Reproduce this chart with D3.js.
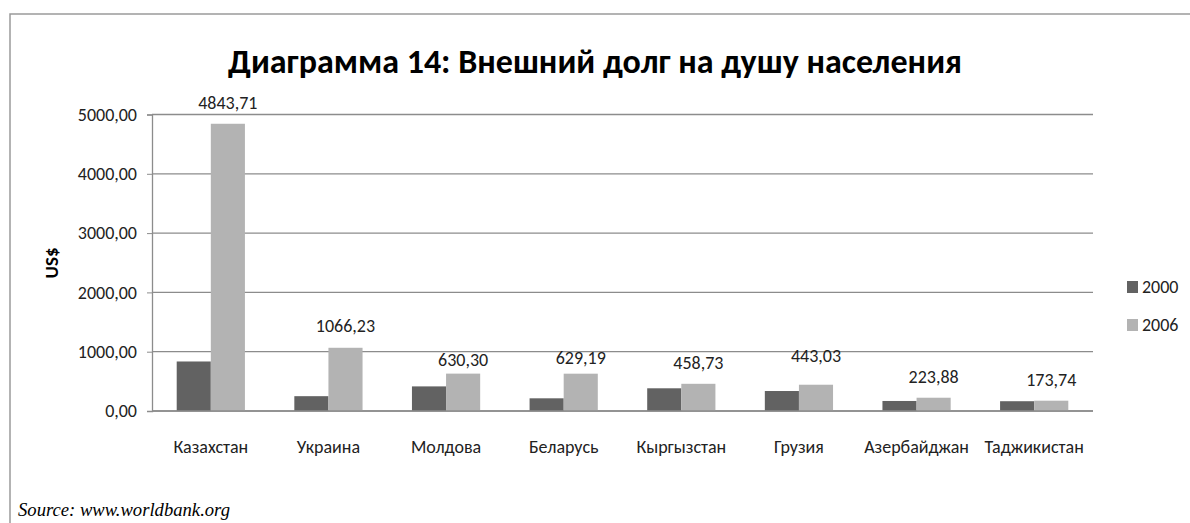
<!DOCTYPE html>
<html>
<head>
<meta charset="utf-8">
<script src="https://cdn.jsdelivr.net/npm/d3@7"></script>
<style>
  html, body { margin: 0; padding: 0; background: #fff; }
</style>
</head>
<body>
<div id="grafico"></div>
<script>
const paises = ["Казахстан", "Украина", "Молдова", "Беларусь", "Кыргызстан", "Грузия", "Азербайджан", "Таджикистан"];
const anos = ["2000", "2006"];
const valores2000 = [835, 250, 415, 214, 383, 337, 169, 165];
const valores2006 = [4843.71, 1066.23, 630.30, 629.19, 458.73, 443.03, 223.88, 173.74];
const ticksY = [0, 1000, 2000, 3000, 4000, 5000];

// label lift above the 2006 bar (px), as placed in the original
const elevacaoRotulo = [21, 22, 14, 16, 21, 29, 21, 21];

const largura = 1190, altura = 523;
const margem = { top: 114.5, right: 97, bottom: 112, left: 152 };
const cores = { "2000": "#626262", "2006": "#b3b3b3" };
const fonte = "Carlito, 'Open Sans', sans-serif";

const svg = d3.select("#grafico").append("svg")
    .attr("width", largura)
    .attr("height", altura);

// frame of the chart area
svg.append("path")
    .attr("d", `M10,${altura} L10,14 L${largura},14`)
    .style("fill", "none")
    .style("stroke", "#9a9a9a")
    .style("stroke-width", 1.5);

const x = d3.scaleBand()
    .domain(paises)
    .range([margem.left, largura - margem.right])
    .paddingInner(0.42)
    .paddingOuter(0.21);

const xAno = d3.scaleBand()
    .domain(anos)
    .range([0, x.bandwidth()]);

const y = d3.scaleLinear()
    .domain([0, 5000])
    .range([altura - margem.bottom, margem.top]);

// gridlines
svg.append("g")
    .selectAll("line")
    .data(ticksY)
    .enter().append("line")
    .attr("x1", margem.left)
    .attr("x2", largura - margem.right)
    .attr("y1", d => y(d))
    .attr("y2", d => y(d))
    .style("stroke", "#8c8c8c")
    .style("stroke-width", 1.3);

const eixoY = svg.append("g")
    .attr("transform", `translate(${margem.left},0)`)
    .call(d3.axisLeft(y)
        .tickValues(ticksY)
        .tickSize(5)
        .tickPadding(10)
        .tickFormat(d => d3.format(".2f")(d).replace(".", ",")));

eixoY.select(".domain").style("stroke", "#8c8c8c").style("stroke-width", 1.3);
eixoY.selectAll(".tick line").style("stroke", "#8c8c8c");
eixoY.selectAll("text")
    .style("font-family", fonte)
    .style("font-size", "18px")
    .style("fill", "#222");

const dados = paises.map((p, i) => ({
    pais: p,
    i: i,
    series: [
        { ano: "2000", valor: valores2000[i] },
        { ano: "2006", valor: valores2006[i] }
    ]
}));

const grupos = svg.append("g")
    .selectAll(".grupo")
    .data(dados)
    .enter().append("g")
    .attr("class", "grupo")
    .attr("transform", d => `translate(${x(d.pais)},0)`);

grupos.selectAll("rect")
    .data(d => d.series)
    .enter().append("rect")
    .attr("x", d => xAno(d.ano))
    .attr("width", xAno.bandwidth())
    .attr("y", d => y(d.valor))
    .attr("height", d => y(0) - y(d.valor))
    .style("fill", d => cores[d.ano]);

// value labels for 2006
grupos.append("text")
    .attr("x", xAno("2006") + xAno.bandwidth() / 2)
    .attr("y", d => y(valores2006[d.i]) - elevacaoRotulo[d.i])
    .attr("dy", "0.35em")
    .attr("text-anchor", "middle")
    .text(d => d3.format(".2f")(valores2006[d.i]).replace(".", ","))
    .style("font-family", fonte)
    .style("font-size", "18px")
    .style("fill", "#222");

// category labels
svg.append("g")
    .selectAll("text")
    .data(paises)
    .enter().append("text")
    .attr("x", d => x(d) + x.bandwidth() / 2)
    .attr("y", 447)
    .attr("dy", "0.35em")
    .attr("text-anchor", "middle")
    .text(d => d)
    .style("font-family", fonte)
    .style("font-size", "18px")
    .style("fill", "#222");

// zero axis line over bars
svg.append("line")
    .attr("x1", margem.left)
    .attr("x2", largura - margem.right)
    .attr("y1", y(0))
    .attr("y2", y(0))
    .style("stroke", "#8c8c8c")
    .style("stroke-width", 1.3);

// title
svg.append("text")
    .attr("x", 595)
    .attr("y", 73)
    .attr("text-anchor", "middle")
    .attr("textLength", 734)
    .attr("lengthAdjust", "spacingAndGlyphs")
    .text("Диаграмма 14: Внешний долг на душу населения")
    .style("font-family", fonte)
    .style("font-weight", "bold")
    .style("font-size", "34px")
    .style("fill", "#000");

// y axis title
svg.append("text")
    .attr("transform", "translate(58,263) rotate(-90)")
    .attr("text-anchor", "middle")
    .text("US$")
    .style("font-family", fonte)
    .style("font-weight", "bold")
    .style("font-size", "19px")
    .style("fill", "#000");

// legend
const legenda = svg.append("g")
    .selectAll(".item-legenda")
    .data(anos)
    .enter().append("g")
    .attr("class", "item-legenda")
    .attr("transform", (d, i) => `translate(1127,${287 + i * 38})`);

legenda.append("rect")
    .attr("y", -6)
    .attr("width", 11)
    .attr("height", 12)
    .style("fill", d => cores[d]);

legenda.append("text")
    .attr("x", 15)
    .attr("dy", "0.35em")
    .text(d => d)
    .style("font-family", fonte)
    .style("font-size", "18px")
    .style("fill", "#222");

// source note
svg.append("text")
    .attr("x", 18)
    .attr("y", 516)
    .attr("textLength", 212)
    .attr("lengthAdjust", "spacingAndGlyphs")
    .text("Source: www.worldbank.org")
    .style("font-family", "'Liberation Serif', serif")
    .style("font-style", "italic")
    .style("font-size", "18px")
    .style("fill", "#000");
</script>
</body>
</html>
